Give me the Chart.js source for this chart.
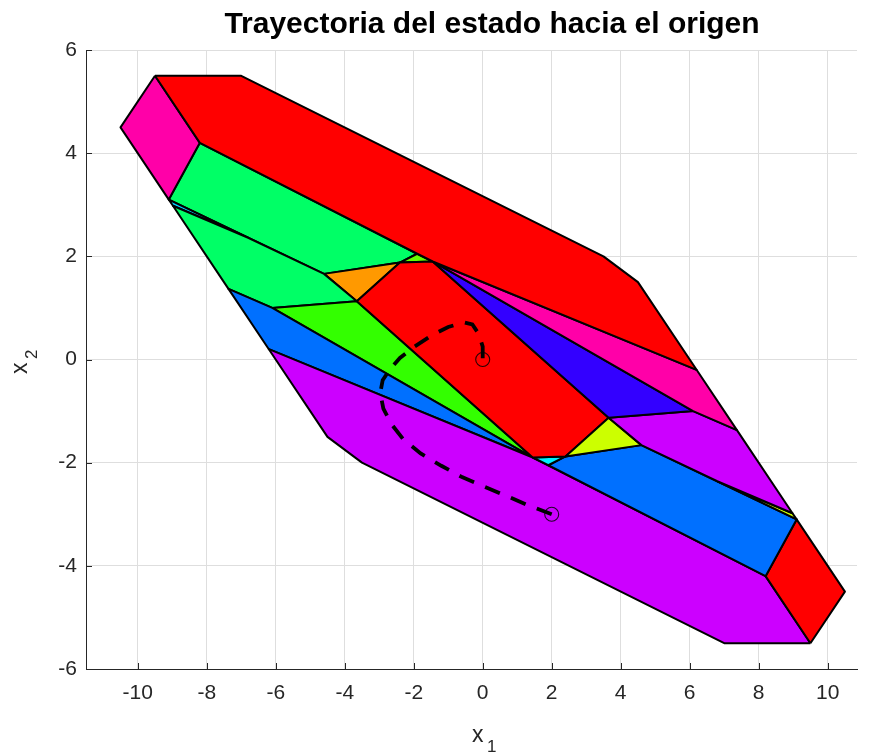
<!DOCTYPE html>
<html>
<head>
<meta charset="utf-8">
<script src="https://cdn.jsdelivr.net/npm/chart.js@4.4.1/dist/chart.umd.min.js"></script>
<style>
  html, body { margin: 0; padding: 0; background: #fff; }
  #wrap { width: 874px; height: 753px; }
</style>
</head>
<body>
<div id="wrap"><canvas id="c" width="874" height="753"></canvas></div>
<script>
// ---------- data ----------
const titleText = 'Trayectoria del estado hacia el origen';
const xTicks = [-10, -8, -6, -4, -2, 0, 2, 4, 6, 8, 10];
const yTicks = [-6, -4, -2, 0, 2, 4, 6];

// polyhedral regions (x1, x2 vertices)
const regionTopRed      = [[-9.5,5.5],[-7,5.5],[3.5,2],[4.5,1.5],[6.2,-0.2],[-1.45,1.9],[-1.9,2.05],[-8.2,4.2]];
const regionLeftPink    = [[-9.5,5.5],[-8.2,4.2],[-9.1,3.1],[-10.5,4.5]];
const regionPinkBand    = [[-1.45,1.9],[6.2,-0.2],[7.37,-1.37],[6.1,-1.0]];
const regionViolet      = [[-1.45,1.9],[6.1,-1.0],[3.65,-1.13]];
const regionPurpleRight = [[3.65,-1.13],[6.1,-1.0],[7.37,-1.37],[8.98,-2.98],[6.8,-2.36],[4.6,-1.66]];
const regionYellowSliver= [[6.8,-2.36],[8.98,-2.98],[9.1,-3.1]];
const regionYellowTri   = [[3.65,-1.13],[4.6,-1.66],[2.4,-1.88]];
const regionCenterRed   = [[-3.65,1.13],[-2.4,1.88],[-1.45,1.9],[3.65,-1.13],[2.4,-1.88],[1.45,-1.9]];
const regionCyanTri     = [[1.45,-1.9],[2.4,-1.88],[1.9,-2.05]];
const regionBlueRight   = [[1.9,-2.05],[2.4,-1.88],[4.6,-1.66],[6.8,-2.36],[9.1,-3.1],[8.2,-4.2]];
const regionRightRed    = [[9.5,-5.5],[8.2,-4.2],[9.1,-3.1],[10.5,-4.5]];
const regionBottomPurple= [[9.5,-5.5],[7,-5.5],[-3.5,-2],[-4.5,-1.5],[-6.2,0.2],[1.45,-1.9],[1.9,-2.05],[8.2,-4.2]];
const regionBlueLeft    = [[1.45,-1.9],[-6.2,0.2],[-7.37,1.37],[-6.1,1.0]];
const regionGreenLeft   = [[1.45,-1.9],[-6.1,1.0],[-3.65,1.13]];
const regionMintLower   = [[-3.65,1.13],[-6.1,1.0],[-7.37,1.37],[-8.98,2.98],[-6.8,2.36],[-4.6,1.66]];
const regionCyanSliver  = [[-6.8,2.36],[-8.98,2.98],[-9.1,3.1]];
const regionOrangeTri   = [[-3.65,1.13],[-4.6,1.66],[-2.4,1.88]];
const regionGreenTri    = [[-1.45,1.9],[-2.4,1.88],[-1.9,2.05]];
const regionMintUpper   = [[-1.9,2.05],[-2.4,1.88],[-4.6,1.66],[-6.8,2.36],[-9.1,3.1],[-8.2,4.2]];

// state trajectory
const trajX1 = [2.0, 1.3, 0.6, 0.0, -0.6, -1.2, -1.8, -2.3, -2.65, -2.88, -2.97, -2.9, -2.7, -2.4, -2.0, -1.5, -1.0, -0.55, -0.3, -0.12, 0.0, 0.0];
const trajX2 = [-3.0, -2.82, -2.62, -2.45, -2.28, -2.06, -1.82, -1.55, -1.25, -0.95, -0.65, -0.4, -0.2, 0.03, 0.24, 0.46, 0.63, 0.72, 0.68, 0.5, 0.25, 0.0];
const markX1 = [2, 0];
const markX2 = [-3, 0];

// ---------- styles ----------
const regions = [
  [regionTopRed, '#FF0000'],
  [regionLeftPink, '#FF00A8'],
  [regionPinkBand, '#FF00A8'],
  [regionViolet, '#3300FF'],
  [regionPurpleRight, '#CC00FF'],
  [regionYellowSliver, '#CCFF00'],
  [regionYellowTri, '#CCFF00'],
  [regionCenterRed, '#FF0000'],
  [regionCyanTri, '#00F0FF'],
  [regionBlueRight, '#0070FF'],
  [regionRightRed, '#FF0000'],
  [regionBottomPurple, '#CC00FF'],
  [regionBlueLeft, '#0070FF'],
  [regionGreenLeft, '#33FF00'],
  [regionMintLower, '#00FF66'],
  [regionCyanSliver, '#00CCFF'],
  [regionOrangeTri, '#FF9900'],
  [regionGreenTri, '#66FF00'],
  [regionMintUpper, '#00FF66']
];

const FONT = '"Liberation Sans", Arial, Helvetica, sans-serif';

const datasets = [];
datasets.push({
  data: trajX1.map((v, i) => ({x: v, y: trajX2[i]})),
  showLine: true, fill: false,
  borderColor: '#000', borderWidth: 3.8, borderDash: [16, 12],
  borderCapStyle: 'butt', pointRadius: 0
});
datasets.push({
  data: markX1.map((v, i) => ({x: v, y: markX2[i]})),
  showLine: false,
  pointRadius: 7, pointStyle: 'circle',
  pointBorderColor: 'rgba(0,0,0,0.85)', pointBorderWidth: 1.1,
  pointBackgroundColor: 'rgba(0,0,0,0)'
});
regions.forEach(([pts, col]) => {
  const d = pts.map(p => ({x: p[0], y: p[1]}));
  d.push({x: pts[0][0], y: pts[0][1]});
  datasets.push({
    data: d, showLine: true, fill: 'shape',
    backgroundColor: col, borderColor: '#000', borderWidth: 2,
    borderJoinStyle: 'round', pointRadius: 0
  });
});

const textPlugin = {
  id: 'texts',
  afterDraw(chart) {
    const {ctx, chartArea: a, scales: {x, y}} = chart;
    ctx.save();
    // inward tick marks
    ctx.strokeStyle = '#262626';
    ctx.lineWidth = 1;
    ctx.beginPath();
    xTicks.forEach(v => {
      const px = Math.round(x.getPixelForValue(v)) + 0.5;
      ctx.moveTo(px, a.bottom); ctx.lineTo(px, a.bottom - 6);
    });
    yTicks.forEach(v => {
      const py = Math.round(y.getPixelForValue(v)) + 0.5;
      ctx.moveTo(a.left, py); ctx.lineTo(a.left + 6, py);
    });
    ctx.stroke();
    // title
    ctx.fillStyle = '#000';
    ctx.textAlign = 'center';
    ctx.textBaseline = 'alphabetic';
    ctx.font = 'bold 30px ' + FONT;
    ctx.fillText(titleText, 492, 33);
    // x axis label
    ctx.fillStyle = '#262626';
    ctx.font = '23px ' + FONT;
    ctx.textAlign = 'left';
    ctx.fillText('x', 472, 742);
    ctx.font = '17px ' + FONT;
    ctx.fillText('1', 487, 752);
    // y axis label
    ctx.translate(27, 374);
    ctx.rotate(-Math.PI / 2);
    ctx.font = '23px ' + FONT;
    ctx.fillText('x', 0, 0);
    ctx.font = '17px ' + FONT;
    ctx.fillText('2', 15, 10);
    ctx.restore();
  }
};

new Chart(document.getElementById('c'), {
  type: 'scatter',
  data: { datasets },
  options: {
    responsive: false,
    animation: false,
    events: [],
    layout: { padding: { top: 50, right: 17, left: 0, bottom: 0 } },
    plugins: {
      legend: { display: false },
      tooltip: { enabled: false },
      title: { display: false }
    },
    scales: {
      x: {
        type: 'linear', min: -11.5, max: 10.85,
        afterBuildTicks: s => { s.ticks = xTicks.map(v => ({value: v})); },
        afterFit: s => { s.height = 84; },
        grid: { color: '#dedede', lineWidth: 1, drawTicks: false },
        border: { display: true, color: '#262626', width: 1 },
        ticks: { padding: 12, color: '#262626', font: { family: FONT, size: 21 }, callback: v => String(v), maxRotation: 0 }
      },
      y: {
        type: 'linear', min: -6, max: 6,
        afterBuildTicks: s => { s.ticks = yTicks.map(v => ({value: v})); },
        afterFit: s => { s.width = 86; },
        grid: { color: '#dedede', lineWidth: 1, drawTicks: false },
        border: { display: true, color: '#262626', width: 1 },
        ticks: { padding: 9, color: '#262626', font: { family: FONT, size: 21 }, callback: v => String(v) }
      }
    }
  },
  plugins: [textPlugin]
});
</script>
</body>
</html>
